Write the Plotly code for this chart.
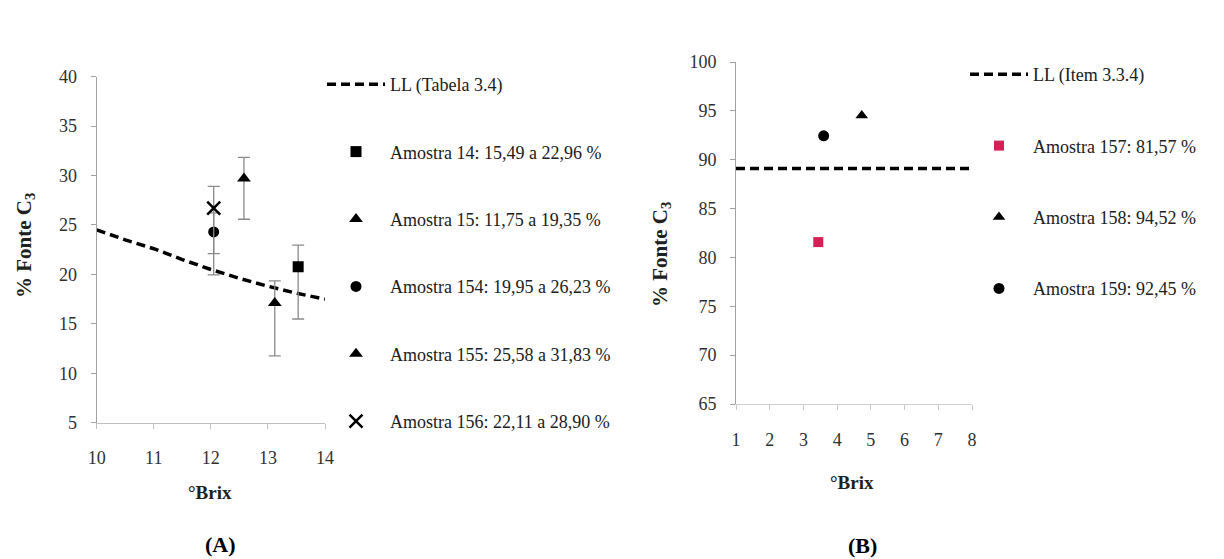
import plotly.graph_objects as go

W, H = 1224, 559

# ---------------- Panel A data ----------------
ll_a_brix = [10, 10.5, 11, 11.5, 12, 12.5, 13, 13.5, 14]
ll_a_c3 = [24.5, 23.5, 22.6, 21.5, 20.5, 19.6, 18.8, 18.1, 17.5]
ll_a_name = "LL (Tabela 3.4)"

a_names = [
    "Amostra 14: 15,49 a 22,96 %",
    "Amostra 15: 11,75 a 19,35 %",
    "Amostra 154: 19,95 a 26,23 %",
    "Amostra 155: 25,58 a 31,83 %",
    "Amostra 156: 22,11 a 28,90 %",
]
a_brix = [13.53, 13.12, 12.05, 12.58, 12.05]
a_c3 = [20.78, 17.1, 24.3, 29.7, 26.7]
a_low = [15.49, 11.75, 19.95, 25.58, 22.11]
a_high = [22.96, 19.35, 26.23, 31.83, 28.90]

# ---------------- Panel B data ----------------
ll_b_brix = [1, 8.05]
ll_b_c3 = [89.1, 89.1]
ll_b_name = "LL (Item 3.3.4)"

b_names = [
    "Amostra 157: 81,57 %",
    "Amostra 158: 94,52 %",
    "Amostra 159: 92,45 %",
]
b_brix = [3.44, 4.73, 3.60]
b_c3 = [81.57, 94.52, 92.45]

x_ticks_a = [10, 11, 12, 13, 14]
y_ticks_a = [5, 10, 15, 20, 25, 30, 35, 40]
x_ticks_b = [1, 2, 3, 4, 5, 6, 7, 8]
y_ticks_b = [65, 70, 75, 80, 85, 90, 95, 100]

# ---------------- styles ----------------
FONT = "Liberation Serif, Times New Roman, serif"
a_styles = [
    dict(symbol="square", size=11, color="black"),
    dict(symbol="triangle-up", size=12, color="black"),
    dict(symbol="circle", size=11, color="black"),
    dict(symbol="triangle-up", size=12, color="black"),
    dict(symbol="x-thin", size=13, color="black", line=dict(color="black", width=2.5)),
]
b_styles = [
    dict(symbol="square", size=10, color="#d81f55"),
    dict(symbol="triangle-up", size=11, color="black"),
    dict(symbol="circle", size=11, color="black"),
]


def fx(px):
    return px / W


def fy(py):
    return 1 - py / H


fig = go.Figure()

fig.add_trace(go.Scatter(
    x=ll_a_brix, y=ll_a_c3, mode="lines", name=ll_a_name,
    line=dict(color="black", width=3.5, dash="9px,5px"),
    xaxis="x", yaxis="y", legend="legend", legendgroup="a0",
))
for i, name in enumerate(a_names):
    fig.add_trace(go.Scatter(
        x=[a_brix[i]], y=[a_c3[i]], mode="markers", name=name,
        marker=a_styles[i],
        error_y=dict(type="data", symmetric=False,
                     array=[a_high[i] - a_c3[i]],
                     arrayminus=[a_c3[i] - a_low[i]],
                     color="#8a8a8a", thickness=1.3, width=6),
        xaxis="x", yaxis="y", legend="legend", legendgroup="a%d" % (i + 1),
    ))

fig.add_trace(go.Scatter(
    x=ll_b_brix, y=ll_b_c3, mode="lines", name=ll_b_name,
    line=dict(color="black", width=3.5, dash="9px,5px"),
    xaxis="x2", yaxis="y2", legend="legend2", legendgroup="b0",
    cliponaxis=False,
))
for i, name in enumerate(b_names):
    fig.add_trace(go.Scatter(
        x=[b_brix[i]], y=[b_c3[i]], mode="markers", name=name,
        marker=b_styles[i],
        xaxis="x2", yaxis="y2", legend="legend2", legendgroup="b%d" % (i + 1),
    ))

tickfont = dict(family=FONT, size=18, color="#303030")
axis_common = dict(showgrid=False, zeroline=False, showline=True,
                   ticks="outside", ticklen=5, tickfont=tickfont)

legend_common = dict(font=dict(family=FONT, size=18, color="#202020"),
                     bgcolor="rgba(0,0,0,0)", itemwidth=58,
                     xanchor="left", yanchor="top", traceorder="grouped",
                     itemclick=False, itemdoubleclick=False)

fig.update_layout(
    width=W, height=H,
    margin=dict(l=0, r=0, t=0, b=0, autoexpand=False),
    paper_bgcolor="white", plot_bgcolor="white",
    showlegend=True,
    xaxis=dict(domain=[fx(96.7), fx(325)], range=[10, 14], tickvals=x_ticks_a,
               linecolor="#c0c0c0", tickcolor="#c0c0c0", anchor="y",
               ticklabelstandoff=14, **axis_common),
    yaxis=dict(domain=[fy(422.7), fy(76.7)], range=[5, 40], tickvals=y_ticks_a,
               linecolor="#a0a0a0", tickcolor="#a0a0a0", anchor="x",
               ticklabelstandoff=10, **axis_common),
    xaxis2=dict(domain=[fx(736), fx(972)], range=[1, 8], tickvals=x_ticks_b,
                linecolor="#d0d0d0", tickcolor="#c8c8c8", anchor="y2",
                ticklabelstandoff=14, **axis_common),
    yaxis2=dict(domain=[fy(404), fy(62)], range=[65, 100], tickvals=y_ticks_b,
                linecolor="#a0a0a0", tickcolor="#a0a0a0", anchor="x2",
                ticklabelstandoff=10, **axis_common),
    legend=dict(x=fx(322), y=fy(66), tracegroupgap=41, **legend_common),
    legend2=dict(x=fx(965), y=fy(56), tracegroupgap=45, **legend_common),
)

ytitle_font = dict(family=FONT, size=21, color="#202020")
xtitle_font = dict(family=FONT, size=19, color="#202020")
annots = [
    dict(text="<b>% Fonte C<sub>3</sub></b>", x=fx(25), y=fy(246), textangle=-90, font=ytitle_font),
    dict(text="<b>% Fonte C<sub>3</sub></b>", x=fx(661), y=fy(255), textangle=-90, font=ytitle_font),
    dict(text="<b>°Brix</b>", x=fx(210), y=fy(492), font=xtitle_font),
    dict(text="<b>°Brix</b>", x=fx(852), y=fy(482), font=xtitle_font),
]
for a in annots:
    fig.add_annotation(xref="paper", yref="paper", showarrow=False,
                       xanchor="center", yanchor="middle", **a)
for txt, px, py in [("(A)", 220, 544), ("(B)", 862, 545)]:
    fig.add_annotation(xref="paper", yref="paper", showarrow=False,
                       xanchor="center", yanchor="middle",
                       text="<b>%s</b>" % txt, x=fx(px), y=fy(py),
                       font=dict(family=FONT, size=22, color="black"))

fig.write_html("out.html",
               config={"displayModeBar": False},
               post_script="document.body.style.margin='0';"
                           "document.body.style.overflow='hidden';")
